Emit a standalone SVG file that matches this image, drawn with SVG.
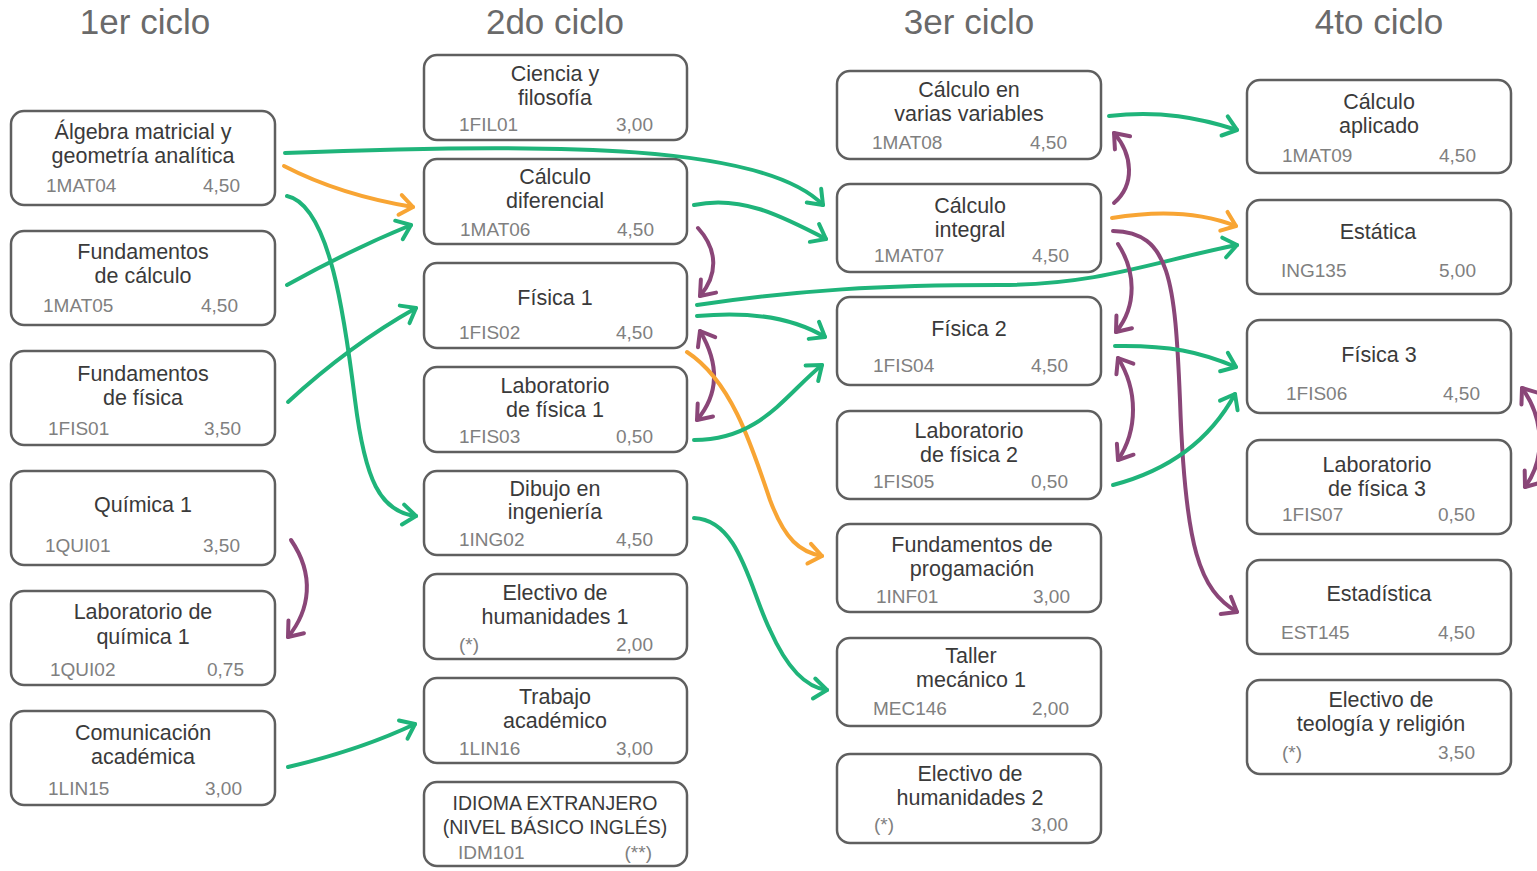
<svg xmlns="http://www.w3.org/2000/svg" width="1537" height="871" viewBox="0 0 1537 871">
<style>
.box{fill:#fff;stroke:#5f5f5f;stroke-width:2.5}
.t{font-family:"Liberation Sans",Arial,sans-serif;font-size:21.5px;fill:#3a3a3a;text-anchor:middle}
.u{font-size:19.5px}
.c{font-family:"Liberation Sans",Arial,sans-serif;font-size:19px;fill:#808080}
.r{text-anchor:end}
.h{font-family:"Liberation Sans",Arial,sans-serif;font-size:35px;fill:#6a6a6a;text-anchor:middle}
.g{fill:none;stroke:#1fb47a;stroke-width:4;stroke-linecap:round;marker-end:url(#mg)}
.o{fill:none;stroke:#f8a534;stroke-width:4;stroke-linecap:round;marker-end:url(#mo)}
.p{fill:none;stroke:#8a4678;stroke-width:4;stroke-linecap:round;marker-end:url(#mp)}
.pp{marker-start:url(#mp)}
</style>
<defs>
<marker id="mg" viewBox="-20 -15 25 30" refX="0" refY="0" markerWidth="25" markerHeight="30" markerUnits="userSpaceOnUse" orient="auto-start-reverse"><path d="M-13,-10 L0,0 L-13,10" fill="none" stroke="#1fb47a" stroke-width="4" stroke-linecap="round" stroke-linejoin="round"/></marker>
<marker id="mo" viewBox="-20 -15 25 30" refX="0" refY="0" markerWidth="25" markerHeight="30" markerUnits="userSpaceOnUse" orient="auto-start-reverse"><path d="M-13,-10 L0,0 L-13,10" fill="none" stroke="#f8a534" stroke-width="4" stroke-linecap="round" stroke-linejoin="round"/></marker>
<marker id="mp" viewBox="-20 -15 25 30" refX="0" refY="0" markerWidth="25" markerHeight="30" markerUnits="userSpaceOnUse" orient="auto-start-reverse"><path d="M-13,-10 L0,0 L-13,10" fill="none" stroke="#8a4678" stroke-width="4" stroke-linecap="round" stroke-linejoin="round"/></marker>
</defs>
<rect width="1537" height="871" fill="#fff"/>
<g id="headers">
<text class="h" x="145" y="34">1er ciclo</text>
<text class="h" x="555" y="34">2do ciclo</text>
<text class="h" x="969" y="34">3er ciclo</text>
<text class="h" x="1379" y="34">4to ciclo</text>
</g>
<g id="n-1MAT04"><rect class="box" x="11" y="111" width="264" height="94" rx="13"/><text class="t" x="143" y="139">Álgebra matricial y</text><text class="t" x="143" y="163">geometría analítica</text><text class="c" x="46" y="192">1MAT04</text><text class="c r" x="240" y="192">4,50</text></g>
<g id="n-1MAT05"><rect class="box" x="11" y="231" width="264" height="94" rx="13"/><text class="t" x="143" y="259">Fundamentos</text><text class="t" x="143" y="283">de cálculo</text><text class="c" x="43" y="312">1MAT05</text><text class="c r" x="238" y="312">4,50</text></g>
<g id="n-1FIS01"><rect class="box" x="11" y="351" width="264" height="94" rx="13"/><text class="t" x="143" y="381">Fundamentos</text><text class="t" x="143" y="405">de física</text><text class="c" x="48" y="435">1FIS01</text><text class="c r" x="241" y="435">3,50</text></g>
<g id="n-1QUI01"><rect class="box" x="11" y="471" width="264" height="94" rx="13"/><text class="t" x="143" y="512">Química 1</text><text class="c" x="45" y="552">1QUI01</text><text class="c r" x="240" y="552">3,50</text></g>
<g id="n-1QUI02"><rect class="box" x="11" y="591" width="264" height="94" rx="13"/><text class="t" x="143" y="619">Laboratorio de</text><text class="t" x="143" y="644">química 1</text><text class="c" x="50" y="676">1QUI02</text><text class="c r" x="244" y="676">0,75</text></g>
<g id="n-1LIN15"><rect class="box" x="11" y="711" width="264" height="94" rx="13"/><text class="t" x="143" y="740">Comunicación</text><text class="t" x="143" y="764">académica</text><text class="c" x="48" y="795">1LIN15</text><text class="c r" x="242" y="795">3,00</text></g>

<g id="n-1FIL01"><rect class="box" x="424" y="55" width="263" height="85" rx="13"/><text class="t" x="555" y="81">Ciencia y</text><text class="t" x="555" y="105">filosofía</text><text class="c" x="459" y="131">1FIL01</text><text class="c r" x="653" y="131">3,00</text></g>
<g id="n-1MAT06"><rect class="box" x="424" y="159" width="263" height="85" rx="13"/><text class="t" x="555" y="184">Cálculo</text><text class="t" x="555" y="208">diferencial</text><text class="c" x="460" y="236">1MAT06</text><text class="c r" x="654" y="236">4,50</text></g>
<g id="n-1FIS02"><rect class="box" x="424" y="263" width="263" height="85" rx="13"/><text class="t" x="555" y="305">Física 1</text><text class="c" x="459" y="339">1FIS02</text><text class="c r" x="653" y="339">4,50</text></g>
<g id="n-1FIS03"><rect class="box" x="424" y="367" width="263" height="85" rx="13"/><text class="t" x="555" y="393">Laboratorio</text><text class="t" x="555" y="417">de física 1</text><text class="c" x="459" y="443">1FIS03</text><text class="c r" x="653" y="443">0,50</text></g>
<g id="n-1ING02"><rect class="box" x="424" y="471" width="263" height="84" rx="13"/><text class="t" x="555" y="496">Dibujo en</text><text class="t" x="555" y="519">ingeniería</text><text class="c" x="459" y="546">1ING02</text><text class="c r" x="653" y="546">4,50</text></g>
<g id="n-EH1"><rect class="box" x="424" y="574" width="263" height="85" rx="13"/><text class="t" x="555" y="600">Electivo de</text><text class="t" x="555" y="624">humanidades 1</text><text class="c" x="459" y="651">(*)</text><text class="c r" x="653" y="651">2,00</text></g>
<g id="n-1LIN16"><rect class="box" x="424" y="678" width="263" height="85" rx="13"/><text class="t" x="555" y="704">Trabajo</text><text class="t" x="555" y="728">académico</text><text class="c" x="459" y="755">1LIN16</text><text class="c r" x="653" y="755">3,00</text></g>
<g id="n-IDM101"><rect class="box" x="424" y="782" width="263" height="84" rx="13"/><text class="t u" x="555" y="810">IDIOMA EXTRANJERO</text><text class="t u" x="555" y="834">(NIVEL BÁSICO INGLÉS)</text><text class="c" x="458" y="859">IDM101</text><text class="c r" x="652" y="859">(**)</text></g>

<g id="n-1MAT08"><rect class="box" x="837" y="71" width="264" height="88" rx="13"/><text class="t" x="969" y="97">Cálculo en</text><text class="t" x="969" y="121">varias variables</text><text class="c" x="872" y="149">1MAT08</text><text class="c r" x="1067" y="149">4,50</text></g>
<g id="n-1MAT07"><rect class="box" x="837" y="184" width="264" height="88" rx="13"/><text class="t" x="970" y="213">Cálculo</text><text class="t" x="970" y="237">integral</text><text class="c" x="874" y="262">1MAT07</text><text class="c r" x="1069" y="262">4,50</text></g>
<g id="n-1FIS04"><rect class="box" x="837" y="297" width="264" height="88" rx="13"/><text class="t" x="969" y="336">Física 2</text><text class="c" x="873" y="372">1FIS04</text><text class="c r" x="1068" y="372">4,50</text></g>
<g id="n-1FIS05"><rect class="box" x="837" y="411" width="264" height="88" rx="13"/><text class="t" x="969" y="438">Laboratorio</text><text class="t" x="969" y="462">de física 2</text><text class="c" x="873" y="488">1FIS05</text><text class="c r" x="1068" y="488">0,50</text></g>
<g id="n-1INF01"><rect class="box" x="837" y="524" width="264" height="88" rx="13"/><text class="t" x="972" y="552">Fundamentos de</text><text class="t" x="972" y="576">progamación</text><text class="c" x="876" y="603">1INF01</text><text class="c r" x="1070" y="603">3,00</text></g>
<g id="n-MEC146"><rect class="box" x="837" y="638" width="264" height="88" rx="13"/><text class="t" x="971" y="663">Taller</text><text class="t" x="971" y="687">mecánico 1</text><text class="c" x="873" y="715">MEC146</text><text class="c r" x="1069" y="715">2,00</text></g>
<g id="n-EH2"><rect class="box" x="837" y="754" width="264" height="89" rx="13"/><text class="t" x="970" y="781">Electivo de</text><text class="t" x="970" y="805">humanidades 2</text><text class="c" x="874" y="831">(*)</text><text class="c r" x="1068" y="831">3,00</text></g>

<g id="n-1MAT09"><rect class="box" x="1247" y="80" width="264" height="93" rx="13"/><text class="t" x="1379" y="109">Cálculo</text><text class="t" x="1379" y="133">aplicado</text><text class="c" x="1282" y="162">1MAT09</text><text class="c r" x="1476" y="162">4,50</text></g>
<g id="n-ING135"><rect class="box" x="1247" y="200" width="264" height="94" rx="13"/><text class="t" x="1378" y="239">Estática</text><text class="c" x="1281" y="277">ING135</text><text class="c r" x="1476" y="277">5,00</text></g>
<g id="n-1FIS06"><rect class="box" x="1247" y="320" width="264" height="93" rx="13"/><text class="t" x="1379" y="362">Física 3</text><text class="c" x="1286" y="400">1FIS06</text><text class="c r" x="1480" y="400">4,50</text></g>
<g id="n-1FIS07"><rect class="box" x="1247" y="440" width="264" height="94" rx="13"/><text class="t" x="1377" y="472">Laboratorio</text><text class="t" x="1377" y="496">de física 3</text><text class="c" x="1282" y="521">1FIS07</text><text class="c r" x="1475" y="521">0,50</text></g>
<g id="n-EST145"><rect class="box" x="1247" y="560" width="264" height="94" rx="13"/><text class="t" x="1379" y="601">Estadística</text><text class="c" x="1281" y="639">EST145</text><text class="c r" x="1475" y="639">4,50</text></g>
<g id="n-ETR"><rect class="box" x="1247" y="680" width="264" height="94" rx="13"/><text class="t" x="1381" y="707">Electivo de</text><text class="t" x="1381" y="731">teología y religión</text><text class="c" x="1282" y="759">(*)</text><text class="c r" x="1475" y="759">3,50</text></g>

<g id="connectors">
<path class="g" d="M285,153 C 560,142 765,145 823,205"/>
<path class="o" d="M284,166 Q 340,195 413,207"/>
<path class="g" d="M287,196 C 330,205 345,320 355,400 C 365,480 380,512 416,516"/>
<path class="g" d="M287,285 Q 350,250 411,225"/>
<path class="g" d="M288,402 Q 350,345 416,308"/>
<path class="g" d="M288,767 Q 360,750 415,724"/>
<path class="p" d="M291,540 C 315,575 310,610 288,637"/>
<path class="g" d="M694,205 C 740,195 780,215 826,239"/>
<path class="p" d="M698,228 C 718,250 718,275 700,296"/>
<path class="g" d="M697,305 C 800,290 880,285 1000,285 C 1100,285 1160,260 1237,245"/>
<path class="g" d="M697,316 C 760,310 800,322 825,337"/>
<path class="p pp" d="M700,331 C 720,365 718,395 697,420"/>
<path class="o" d="M687,352 C 730,380 750,440 770,500 C 785,540 800,552 822,556"/>
<path class="g" d="M694,440 C 760,440 785,395 822,365"/>
<path class="g" d="M694,518 C 740,520 750,590 770,630 C 790,675 810,688 827,690"/>
<path class="g" d="M1109,116 C 1160,110 1200,118 1237,130"/>
<path class="p" d="M1114,203 C 1135,185 1133,155 1114,133"/>
<path class="o" d="M1112,218 C 1160,210 1200,212 1236,226"/>
<path class="p" d="M1113,231 C 1170,232 1175,280 1180,400 C 1185,550 1200,590 1237,612"/>
<path class="p" d="M1118,244 C 1135,270 1138,305 1116,332"/>
<path class="g" d="M1115,346 C 1170,345 1200,352 1236,367"/>
<path class="p pp" d="M1118,358 C 1138,390 1138,430 1118,460"/>
<path class="g" d="M1113,485 C 1170,470 1210,440 1235,394"/>
<path class="p pp" d="M1522,388 C 1545,420 1545,460 1525,487"/>
</g>
</svg>
